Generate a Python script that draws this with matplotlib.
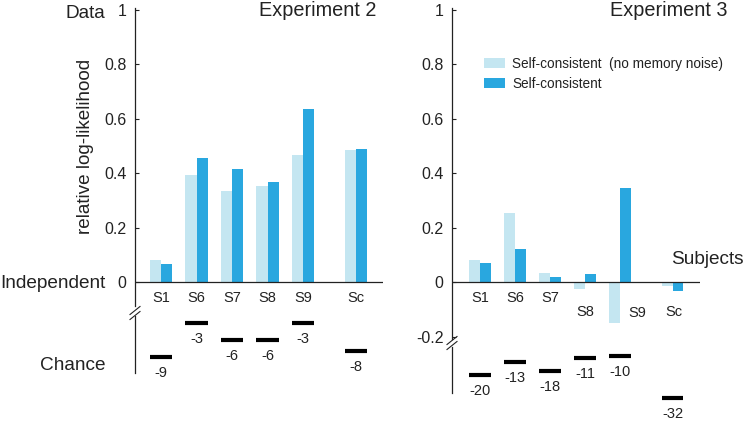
import numpy as np
import matplotlib.pyplot as plt

plt.rcParams["font.family"] = ["Liberation Sans", "DejaVu Sans"]

subjects = ["S1", "S6", "S7", "S8", "S9", "Sc"]
xpos = [1, 2, 3, 4, 5, 6.5]

# Experiment 2
exp2_nonoise = [0.081, 0.393, 0.336, 0.353, 0.467, 0.486]
exp2_selfcons = [0.067, 0.455, 0.415, 0.366, 0.635, 0.488]
exp2_chance = [-9, -3, -6, -6, -3, -8]

# Experiment 3
exp3_nonoise = [0.082, 0.255, 0.033, -0.025, -0.152, -0.015]
exp3_selfcons = [0.072, 0.120, 0.020, 0.030, 0.345, -0.033]
exp3_chance = [-20, -13, -18, -11, -10, -32]

light = "#c4e6f1"
dark = "#29a7df"
txt = "#222222"

W, H = 744, 421
fig = plt.figure(figsize=(W / 100, H / 100), dpi=100)


def px_axes(x0, x1, y0, y1):
    # pixel box (top-left origin) -> figure axes
    return fig.add_axes([x0 / W, 1 - y1 / H, (x1 - x0) / W, (y1 - y0) / H])


def break_mark(x, y):
    for dy in (-2.5, 2.5):
        fig.lines.append(plt.Line2D([(x - 5) / W, (x + 5) / W],
                                    [1 - (y + dy + 4) / H, 1 - (y + dy - 4) / H],
                                    transform=fig.transFigure, color=txt, lw=0.8))


def panel(x0, x1, unit, top_bottom, neg_min, nonoise, selfcons,
          chance, ch_box, ch_lim, ch_bounds, lab_offsets, ticks, ticklabels):
    # bar part: 0 at pixel 282, 1 at pixel 10
    ax = px_axes(x0, x1, 8, top_bottom)
    xl = 1 - unit[0]
    ax.set_xlim(xl, xl + (x1 - x0) / unit[1])
    ax.set_ylim(neg_min, (282 - 8) / 272)
    for s in ("top", "right", "bottom"):
        ax.spines[s].set_visible(False)
    ax.spines["left"].set_color(txt)
    ax.spines["left"].set_linewidth(0.9)
    x = np.array(xpos)
    bw = 0.31
    ax.bar(x - bw / 2, nonoise, bw, color=light, label="Self-consistent  (no memory noise)")
    ax.bar(x + bw / 2, selfcons, bw, color=dark, label="Self-consistent")
    ax.axhline(0, color=txt, lw=0.9)
    ax.set_xticks([])
    ax.set_yticks(ticks)
    ax.set_yticklabels(ticklabels, fontsize=11.5, color=txt)
    ax.tick_params(axis="y", direction="in", length=3, width=0.8, color=txt, pad=6)
    for xi, lab, off in zip(x, subjects, lab_offsets):
        ax.annotate(lab, (xi, 0), xytext=(off[0], -16 - off[1]), textcoords="offset pixels",
                    ha="center", va="center", fontsize=10.5, color=txt)

    # chance part
    cx = px_axes(x0, x1, ch_box[0], ch_box[1])
    cx.set_xlim(ax.get_xlim())
    cx.set_ylim(ch_lim)
    cx.patch.set_alpha(0)
    for s in ("top", "right", "bottom"):
        cx.spines[s].set_visible(False)
    cx.spines["left"].set_color(txt)
    cx.spines["left"].set_linewidth(0.9)
    cx.spines["left"].set_bounds(*ch_bounds)
    cx.set_xticks([])
    cx.set_yticks([])
    cx.hlines(chance, x - 0.31, x + 0.31, color="black", lw=3)
    for xi, c in zip(x, chance):
        cx.annotate(str(c), (xi, c), xytext=(0, -16), textcoords="offset pixels",
                    ha="center", va="center", fontsize=10.5, color=txt)
    return ax


ax2 = panel(135, 383, (26 / 35.5, 35.5), 306, -0.088, exp2_nonoise, exp2_selfcons,
            exp2_chance, (316, 373), (-11.8, -1.76), (-11.8, -1.76),
            [(0, 0)] * 6,
            [0, 0.2, 0.4, 0.6, 0.8, 1], ["0", "0.2", "0.4", "0.6", "0.8", "1"])
break_mark(135, 313)

ax3 = panel(452, 700, (28 / 35, 35), 339, -0.209, exp3_nonoise, exp3_selfcons,
            exp3_chance, (347, 415), (-41, -5.3), (-29.5, -5.3),
            [(0, 0), (0, 0), (0, 0), (0, 14), (17, 15), (1, 14)],
            [-0.2, 0, 0.2, 0.4, 0.6, 0.8, 1], ["-0.2", "0", "0.2", "0.4", "0.6", "0.8", "1"])
break_mark(452, 343)

leg = ax3.legend(loc="upper left", bbox_to_anchor=(0.08, 0.89), frameon=False,
                 fontsize=9.8, handlelength=1.55, handleheight=0.75,
                 handletextpad=0.5, labelspacing=0.45)
for t in leg.get_texts():
    t.set_color(txt)

fig.text(376 / W, 1 - 11 / H, "Experiment 2", ha="right", va="center", fontsize=14.3, color=txt)
fig.text(727 / W, 1 - 11 / H, "Experiment 3", ha="right", va="center", fontsize=14.3, color=txt)
fig.text(105 / W, 1 - 13 / H, "Data", ha="right", va="center", fontsize=13.7, color=txt)
fig.text(105 / W, 1 - 284 / H, "Independent", ha="right", va="center", fontsize=13.7, color=txt)
fig.text(105 / W, 1 - 366 / H, "Chance", ha="right", va="center", fontsize=13.7, color=txt)
fig.text(744 / W, 1 - 259 / H, "Subjects", ha="right", va="center", fontsize=13.7, color=txt)
fig.text(86 / W, 1 - 146 / H, "relative log-likelihood", ha="center", va="center",
         rotation=90, fontsize=13.6, color=txt)

fig.savefig("out.png", dpi=100)
